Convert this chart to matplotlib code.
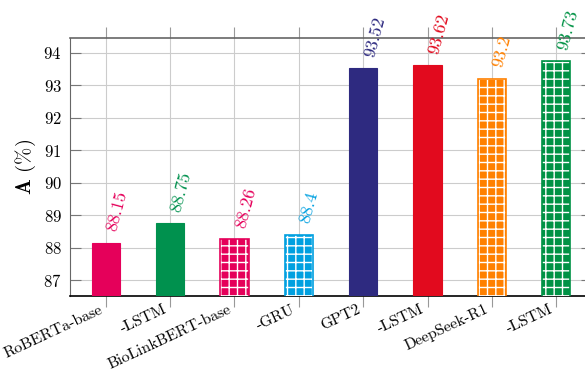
import matplotlib
matplotlib.use('Agg')
import matplotlib.pyplot as plt
import matplotlib.transforms as mtransforms
import numpy as np

# Data
models = ['RoBERTa-base', '-LSTM', 'BioLinkBERT-base', '-GRU',
          'GPT2', '-LSTM', 'DeepSeek-R1', '-LSTM']
scores = [88.15, 88.75, 88.26, 88.4, 93.52, 93.62, 93.2, 93.73]
labels = ['88.15', '88.75', '88.26', '88.4', '93.52', '93.62', '93.2', '93.73']
colors = ['#E5005A', '#00914E', '#E5005A', '#00A0E0',
          '#2E2A80', '#E20A1E', '#FF8000', '#009245']
hatched = [False, False, True, True, False, False, True, True]

plt.rcParams['font.family'] = 'cmr10'
plt.rcParams['mathtext.fontset'] = 'cm'
plt.rcParams['axes.formatter.use_mathtext'] = True
plt.rcParams['hatch.linewidth'] = 1.0

fig = plt.figure(figsize=(5.85, 3.71), dpi=100)
ax = fig.add_axes([70 / 585, 1 - 296.3 / 371, 522 / 585, (296.3 - 37.7) / 371])

x = np.arange(len(models))
width = 0.44

for xi, s, c, h in zip(x, scores, colors, hatched):
    if h:
        # white grid hatch on coloured face, then coloured outline
        ax.bar(xi, s - 80, width, bottom=80, color=c, edgecolor='white',
               hatch='++', linewidth=0, zorder=3)
        ax.bar(xi, s - 80, width, bottom=80, facecolor='none', edgecolor=c,
               linewidth=1.2, zorder=4)
    else:
        ax.bar(xi, s - 80, width, bottom=80, color=c, edgecolor=c,
               linewidth=0.8, zorder=3)

# value labels above the bars
for xi, s, c, t in zip(x, scores, colors, labels):
    ax.text(xi - 0.02, s + 0.42, t, color=c, fontsize=13, rotation=75,
            rotation_mode='anchor', ha='left', va='top', zorder=5)

ax.set_xlim(-0.556, 7.556)
ax.set_ylim(86.5, 94.46)
ax.set_yticks([87, 88, 89, 90, 91, 92, 93, 94])
ax.set_xticks(x)
ax.set_xticklabels(models, rotation=25, ha='right', va='center',
                   rotation_mode='anchor', fontsize=11.3)
ax.tick_params(axis='y', labelsize=12, direction='in', length=8, width=0.8,
               color='#777777', right=True, pad=6)
ax.tick_params(axis='x', direction='out', length=8, width=0.8,
               color='#999999', top=True, pad=1)

# nudge tick labels a little to the left, like the original
shift = mtransforms.ScaledTranslation(-4 / 100, 0, fig.dpi_scale_trans)
for lab in ax.get_xticklabels():
    lab.set_transform(lab.get_transform() + shift)

ax.grid(True, color='#cccccc', linewidth=0.8, zorder=0)
ax.set_axisbelow(True)

ax.spines['top'].set_color('#666666')
ax.spines['top'].set_linewidth(1.2)
ax.spines['left'].set_color('#666666')
ax.spines['bottom'].set_color('black')
ax.spines['bottom'].set_linewidth(1.2)
ax.spines['right'].set_visible(False)

ax.set_ylabel(r'$\mathbf{A}$ (%)', fontsize=15, labelpad=4)

fig.savefig('out.png', dpi=100)
